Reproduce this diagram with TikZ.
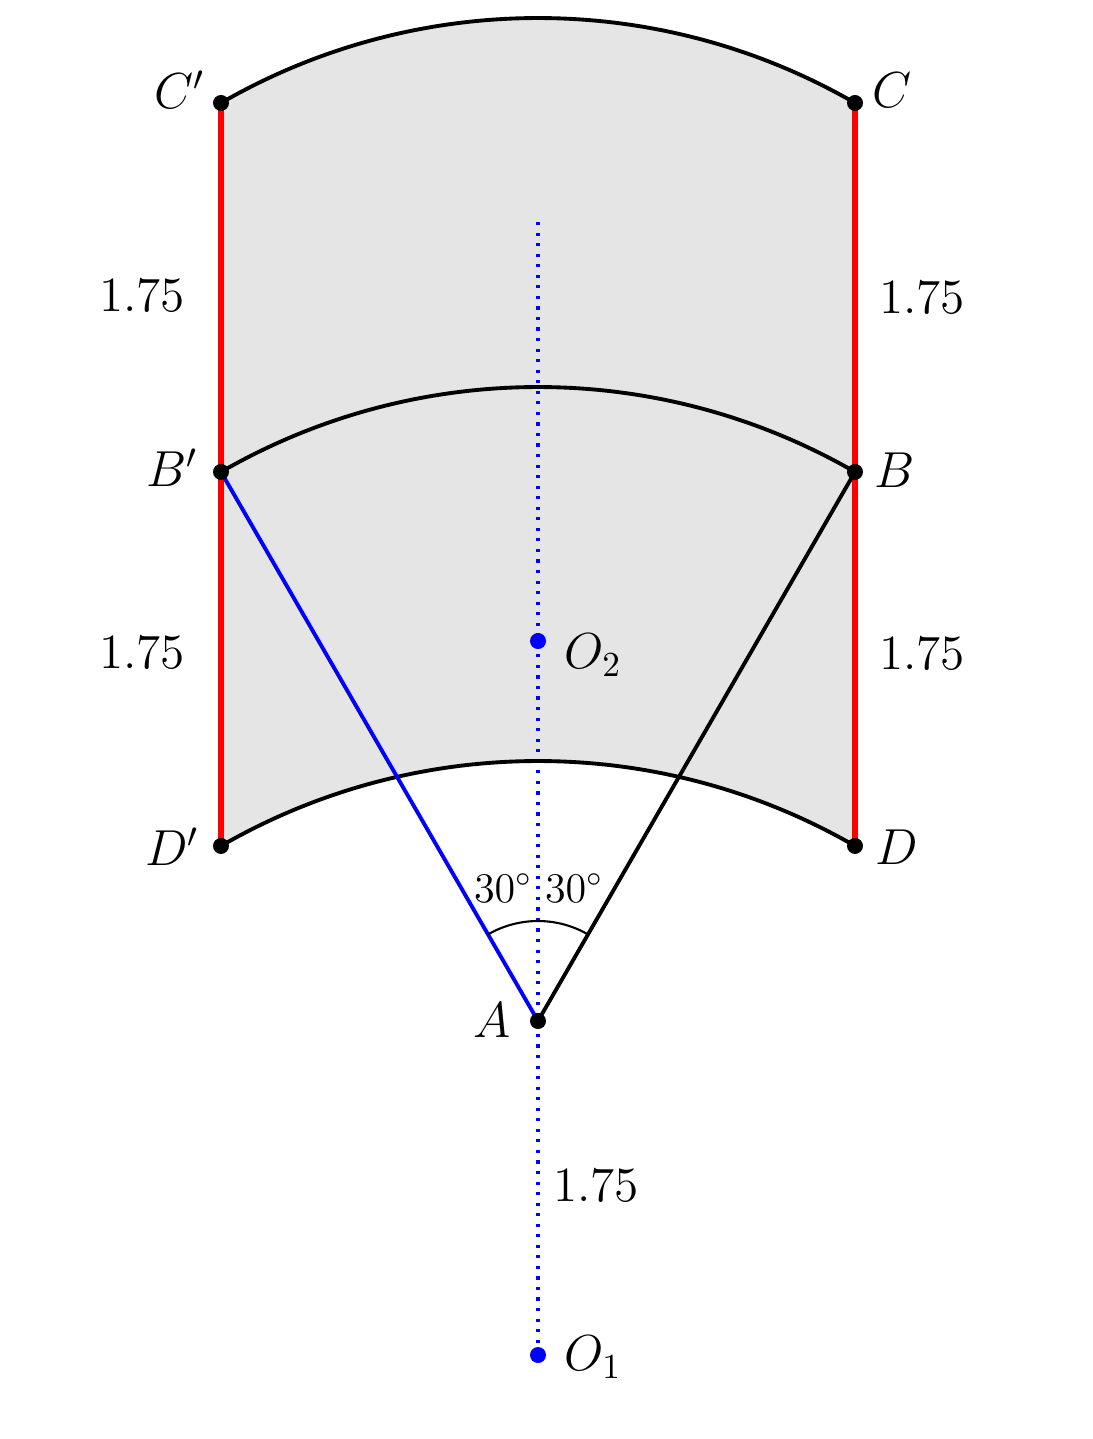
\documentclass[tikz,border=0pt]{standalone}
\usetikzlibrary{calc}
\begin{document}
\begin{tikzpicture}[
  dot/.style={circle,fill=black,inner sep=0pt,minimum size=0.16cm},
  bdot/.style={circle,fill=blue,inner sep=0pt,minimum size=0.16cm},
  lab/.style={font=\fontsize{14}{16}\selectfont,inner sep=0pt},
  slab/.style={font=\fontsize{11.5}{13}\selectfont,inner sep=0pt},
  redline/.style={red,line width=1.5pt},
  arcline/.style={black,line width=1.1pt},
  axisline/.style={blue,line width=1pt,dash pattern=on 0.9pt off 2.1pt},
]
\useasboundingbox (0,0) rectangle (10.93,-14.39);
% points
\coordinate (A) at (5.38,-10.21);
\coordinate (B) at ($(A)+(60:6.34)$);
\coordinate (Bp) at ($(A)+(120:6.34)$);
\coordinate (C) at ($(B)+(0,3.69)$);
\coordinate (Cp) at ($(Bp)+(0,3.69)$);
\coordinate (D) at ($(B)+(0,-3.74)$);
\coordinate (Dp) at ($(Bp)+(0,-3.74)$);
\coordinate (O2) at (5.38,-6.41);
\coordinate (O1) at (5.38,-13.55);
\coordinate (T) at (5.38,-2.22);
% shaded region
\fill[black!10] (Cp) arc[start angle=120,end angle=60,radius=6.34] -- (D)
  arc[start angle=60,end angle=120,radius=6.34] -- cycle;
% dotted axis
\draw[axisline] (T) -- (O1);
% arcs
\draw[arcline] (Cp) arc[start angle=120,end angle=60,radius=6.34];
\draw[arcline] (Bp) arc[start angle=120,end angle=60,radius=6.34];
\draw[arcline] (Dp) arc[start angle=120,end angle=60,radius=6.34];
% red sides
\draw[redline] (Cp) -- (Dp);
\draw[redline] (C) -- (D);
% rays from A
\draw[blue,line width=1.1pt] (A) -- (Bp);
\draw[black,line width=1.1pt] (A) -- (B);
% angle arc
\draw[black,line width=0.6pt] ($(A)+(60:1.0)$) arc[start angle=60,end angle=120,radius=1.0];
% dots
\node[dot] (nA) at (A) {};
\node[dot] (nB) at (B) {};
\node[dot] (nBp) at (Bp) {};
\node[dot] (nC) at (C) {};
\node[dot] (nCp) at (Cp) {};
\node[dot] (nD) at (D) {};
\node[dot] (nDp) at (Dp) {};
\node[bdot] (nO2) at (O2) {};
\node[bdot] (nO1) at (O1) {};
% labels
\node[lab] (lCp) at (1.80,-0.90) {$C'$};
\node[lab] (lC) at (8.92,-0.90) {$C$};
\node[lab] (lBp) at (1.72,-4.68) {$B'$};
\node[lab] (lB) at (8.95,-4.70) {$B$};
\node[lab] (lDp) at (1.72,-8.47) {$D'$};
\node[lab] (lD) at (8.97,-8.47) {$D$};
\node[lab] (lA) at (4.92,-10.20) {$A$};
\node[lab] (lO2) at (5.93,-6.55) {$O_2$};
\node[lab] (lO1) at (5.93,-13.57) {$O_1$};
\node[lab] (m1) at (1.42,-2.95) {1.75};
\node[lab] (m2) at (9.22,-2.97) {1.75};
\node[lab] (m3) at (1.42,-6.52) {1.75};
\node[lab] (m4) at (9.22,-6.53) {1.75};
\node[lab] (m5) at (5.96,-11.85) {1.75};
\node[slab] (a1) at (5.03,-8.88) {$30^\circ$};
\node[slab] (a2) at (5.74,-8.88) {$30^\circ$};
\end{tikzpicture}
\end{document}
